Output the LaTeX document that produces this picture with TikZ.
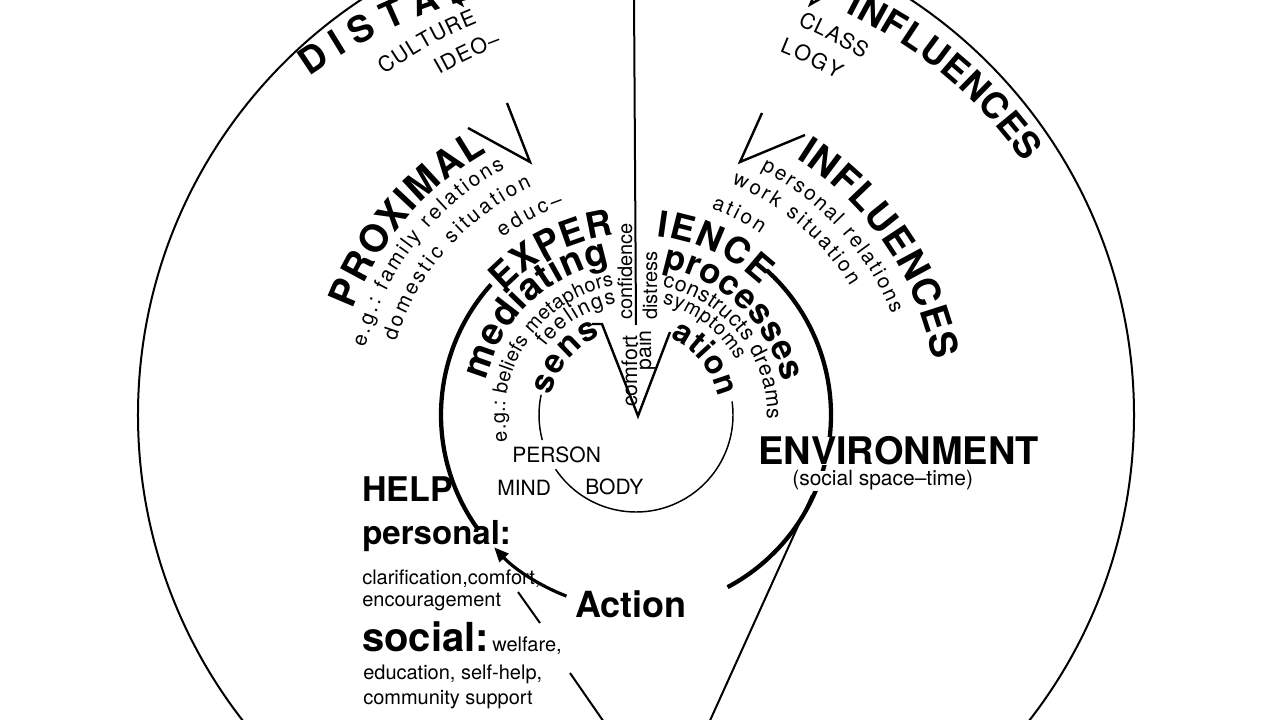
\documentclass[tikz,border=0pt]{standalone}
\usepackage{fontspec}
\setmainfont{TeX Gyre Heros}
\usetikzlibrary{decorations.text,arrows.meta}
\newcommand\myfs[1]{\fontsize{#1}{#1}\selectfont}
% text on a clockwise arc about the centre: font, radius, start angle, end angle, text
\newcommand\arcwords[5]{\path[decorate,decoration={text along path,text align={fit to path},text={|#1|#5}}] (#3:#2) arc[start angle=#3,end angle=#4,radius=#2];}
% text on a bent path between two points: font, start, end, bend, text
\newcommand\bentwords[5]{\path[decorate,decoration={text along path,text align={fit to path},text={|#1|#5}}] (#2) to[bend left=#4] (#3);}
\tikzset{
  thinline/.style={line width=1.5pt},
  vline/.style={line width=1.8pt,line join=miter},
  ringline/.style={line width=3.2pt},
  circline/.style={line width=1.1pt},
  lbl/.style={inner sep=0pt,anchor=base west},
  rot/.style={inner sep=0pt,rotate=90},
}
\begin{document}
\begin{tikzpicture}[x=0.75pt,y=0.75pt]
\fill[white] (-636,-305) rectangle (644,415);
\useasboundingbox (-636,-305) rectangle (644,415);
\clip (-636,-305) rectangle (644,415);

% ---------- geometry ----------
\coordinate (C) at (0,0);
\draw[thinline] (C) circle[radius=498];
\coordinate (vtop) at (-2,420);
\coordinate (vbot) at (0,90);
\draw[thinline] (vtop) -- (vbot);

% outer wedges
\coordinate (oLa) at (113:446); \coordinate (oL1) at (113:520); \coordinate (oL2) at (119:520);
\coordinate (oRa) at (67:446);  \coordinate (oR1) at (67:520);  \coordinate (oR2) at (61:520);
\draw[vline] (oL2) -- (oLa) -- (oL1);
\draw[vline] (oR2) -- (oRa) -- (oR1);
% middle wedges
\coordinate (mLa) at (-106,253); \coordinate (mL1) at (-168,287); \coordinate (mL2) at (-129,312);
\coordinate (mRa) at (104,253);  \coordinate (mR1) at (126,302);  \coordinate (mR2) at (169,280);
\draw[vline] (mL1) -- (mLa) -- (mL2);
\draw[vline] (mR1) -- (mRa) -- (mR2);
% inner wedge
\coordinate (iL0) at (-44,91); \coordinate (iL1) at (-34,91);
\coordinate (iA) at (2,-1); \coordinate (iR1) at (34,83);
\draw[vline] (iL0) -- (iL1) -- (iA) -- (iR1);

% person circle
\draw[circline] (168:97) arc[start angle=168,end angle=195,radius=97];
\draw[circline] (214:97) arc[start angle=214,end angle=368,radius=97];

% experience ring
\draw[ringline] (138:195) arc[start angle=138,end angle=216,radius=195];
\draw[ringline] (48:195) arc[start angle=48,end angle=-62,radius=195];

% cone lines
\coordinate (cl1) at (-118,-177); \coordinate (cl2) at (-96,-208);
\coordinate (cl3) at (-66,-258);  \coordinate (cl4) at (-30,-310);
\draw[thinline] (cl1) -- (cl2);
\draw[thinline] (cl3) -- (cl4);
\coordinate (cr1) at (176,-80); \coordinate (cr2) at (72,-310);
\draw[thinline] (cr1) -- (cr2);

% ---------- curved texts ----------
% outer ring
\bentwords{\bfseries\myfs{27.5pt}}{134:470}{111.5:447}{9}{DISTAL}
\arcwords{\myfs{16pt}}{423}{126.5}{112}{CULTURE}
\arcwords{\myfs{16pt}}{393}{120}{110}{IDEO–}
\bentwords{\bfseries\myfs{27pt}}{62.5:454}{33:463}{13}{INFLUENCES}
\arcwords{\myfs{16pt}}{422}{67.5}{57.5}{CLASS}
\arcwords{\myfs{16pt}}{391}{68.5}{59}{LOGY}
% middle ring
\arcwords{\bfseries\myfs{28.5pt}}{302}{159.5}{119.5}{PROXIMAL}
\arcwords{\myfs{15.5pt}}{279}{166}{118}{e.g.: family relations}
\arcwords{\myfs{15.5pt}}{251}{163}{114.5}{domestic situation}
\arcwords{\myfs{15.5pt}}{222}{127}{109}{educ–}
\arcwords{\bfseries\myfs{28.5pt}}{302}{58}{10.5}{INFLUENCES}
\arcwords{\myfs{15.5pt}}{275}{63}{21.5}{personal relations}
\arcwords{\myfs{15.5pt}}{250}{67.5}{31}{work situation}
\arcwords{\myfs{15.5pt}}{220}{70}{55.5}{ation}
% experience ring
\arcwords{\bfseries\myfs{27pt}}{181}{137}{97}{EXPER}
\arcwords{\bfseries\myfs{27pt}}{180}{83.5}{46}{IENCE}
\arcwords{\bfseries\myfs{28pt}}{154}{167}{100}{mediating}
\arcwords{\bfseries\myfs{26pt}}{150}{79.8}{12.8}{processes}
\arcwords{\myfs{15pt}}{131}{191.5}{99.7}{e.g.: beliefs metaphors}
\arcwords{\myfs{16pt}}{113}{143}{100}{feelings}
\arcwords{\myfs{16pt}}{131}{78.4}{-2}{constructs dreams}
\arcwords{\myfs{15pt}}{114}{76.7}{28.6}{symptoms}
\arcwords{\bfseries\myfs{25pt}}{87}{167}{114}{sens}
\arcwords{\bfseries\myfs{24pt}}{84}{66}{12}{ation}

% ---------- vertical words ----------
\node[rot,anchor=base west,font=\myfs{15pt}] (conf) at (-4,95) {confidence};
\node[rot,anchor=base west,font=\myfs{15pt}] (dist) at (21,95) {distress};
\node[rot,anchor=base west,font=\myfs{16pt}] (comf) at (1,8) {comfort};
\node[rot,anchor=base east,font=\myfs{16pt}] (pain) at (15,85) {pain};

% ---------- person ----------
\node[lbl,font=\myfs{15.75pt}] (person) at (-124,-48) {PERSON};
\node[lbl,font=\myfs{15.75pt}] (mind) at (-139,-81) {MIND};
\node[lbl,font=\myfs{15.75pt}] (body) at (-51,-80) {BODY};

% ---------- environment ----------
\node[lbl,font=\bfseries\myfs{28.5pt},fill=white] (env) at (122,-50) {ENVIRONMENT};
\node[lbl,font=\myfs{15.75pt},fill=white] (sst) at (156,-71) {(social space–time)};

% ---------- help ----------
\node[lbl,font=\bfseries\myfs{25.5pt}] (help) at (-274,-87) {HELP};
\node[lbl,font=\bfseries\myfs{24.75pt}] (personal) at (-274,-130) {personal:};
\node[lbl,font=\myfs{15pt}] (clar) at (-274,-169.5) {clarification,comfort,};
\node[lbl,font=\myfs{15pt}] (enc) at (-274,-191) {encouragement};
\node[lbl,font=\bfseries\myfs{30pt}] (social) at (-274,-236) {social:};
\node[lbl,font=\myfs{15pt}] (welfare) at (-144,-236) {welfare,};
\node[lbl,font=\myfs{15pt}] (edu) at (-273,-264.5) {education, self-help,};
\node[lbl,font=\myfs{15pt}] (comm) at (-273,-289) {community support};
\node[lbl,font=\bfseries\myfs{27pt}] (action) at (-61,-202) {Action};

% action arrow along the ring
\coordinate (arrS) at (249:194);
\draw[line width=2.4pt,-{Triangle[length=11pt,width=9pt]}] (arrS) arc[start angle=249,end angle=223,radius=194];
\end{tikzpicture}
\end{document}
